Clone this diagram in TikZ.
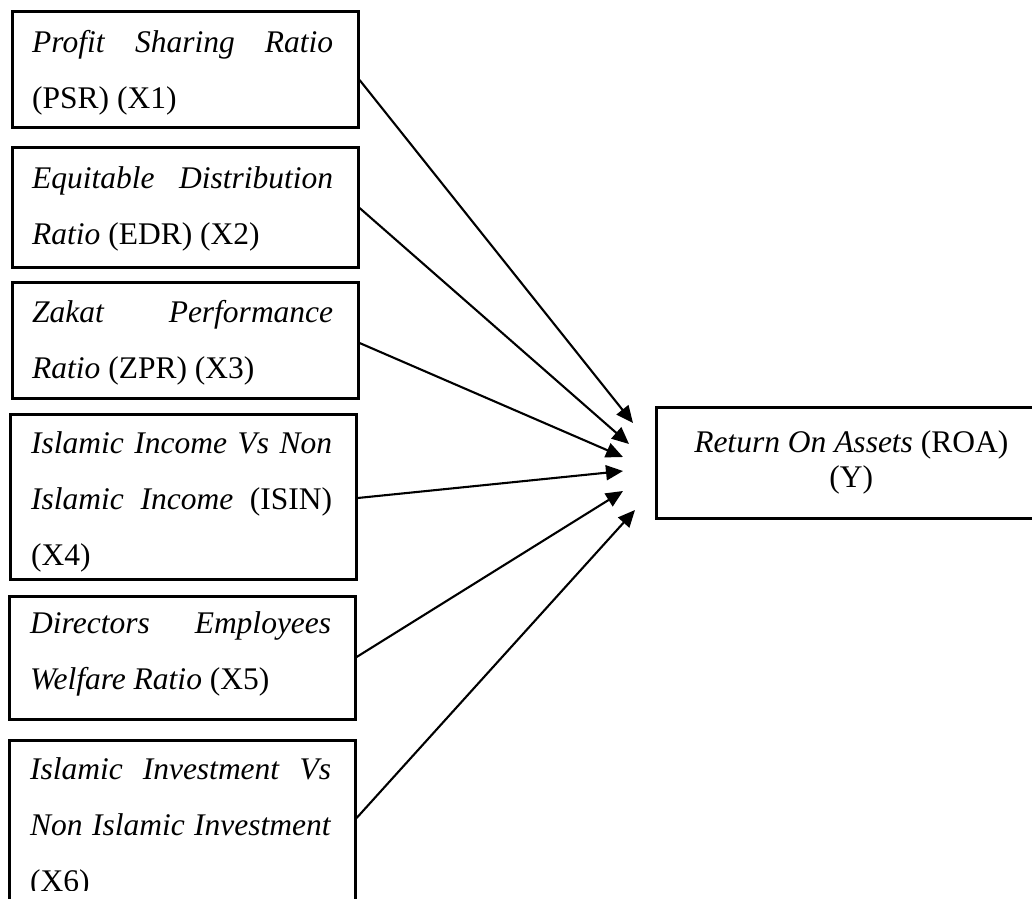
\documentclass[tikz,border=0pt]{standalone}
\usepackage{fontspec}
\setmainfont{Liberation Serif}
\usetikzlibrary{arrows.meta,calc}
\newcommand{\justline}[1]{\hbox to 301pt{\strut #1}}
\newcommand{\plainline}[1]{\hbox{\strut #1}}
\tikzset{
  box/.style={draw=black, line width=2.6pt, inner sep=0pt, anchor=north west, minimum width=346pt},
  lbl/.style={inner sep=0pt, anchor=base west, font=\fontsize{31.5}{56}\selectfont},
  conn/.style={line width=2.1pt, -{Triangle[length=17pt,width=15pt]}},
}
\begin{document}
\begin{tikzpicture}[x=1pt,y=-1pt]
\useasboundingbox (0,0) rectangle (1032,898);
\fill[white] (0,0) rectangle (1032,898);
\clip (0,0) rectangle (1032,898);

% left boxes
\node[box, minimum height=116pt] (b1) at (11,10) {};
\node[box, minimum height=120pt] (b2) at (11,146) {};
\node[box, minimum height=116pt] (b3) at (11,281) {};
\node[box, minimum height=165pt] (b4) at (9,413) {};
\node[box, minimum height=123pt] (b5) at (8,595) {};
\node[box, minimum height=175pt] (b6) at (8,739) {};

% texts
\node[lbl] (t1) at (32,52) {\vtop{%
  \justline{\textit{Profit}\hfill\textit{Sharing}\hfill\textit{Ratio}}
  \plainline{(PSR) (X1)}}};
\node[lbl] (t2) at (32,188) {\vtop{%
  \justline{\textit{Equitable}\hfill\textit{Distribution}}
  \plainline{\textit{Ratio} (EDR) (X2)}}};
\node[lbl] (t3) at (32,322) {\vtop{%
  \justline{\textit{Zakat}\hfill\textit{Performance}}
  \plainline{\textit{Ratio} (ZPR) (X3)}}};
\node[lbl] (t4) at (31,453) {\vtop{%
  \justline{\textit{Islamic}\hfill\textit{Income}\hfill\textit{Vs}\hfill\textit{Non}}
  \justline{\textit{Islamic}\hfill\textit{Income}\hfill(ISIN)}
  \plainline{(X4)}}};
\node[lbl] (t5) at (30,633) {\vtop{%
  \justline{\textit{Directors}\hfill\textit{Employees}}
  \plainline{\textit{Welfare Ratio} (X5)}}};
\begin{scope}
\clip (0,0) rectangle (1032,890);
\node[lbl] (t6) at (30,779) {\vtop{%
  \justline{\textit{Islamic}\hfill\textit{Investment}\hfill\textit{Vs}}
  \justline{\textit{Non}\hfill\textit{Islamic}\hfill\textit{Investment}}
  \plainline{(X6)}}};
\end{scope}

% dependent variable box
\node[box, minimum width=390pt, minimum height=111pt, align=center,
      font=\fontsize{31.5}{35}\selectfont] (y) at (655,406)
      {\textit{Return On Assets} (ROA)\\(Y)};

% arrow tips
\coordinate (e1) at (633,423);
\coordinate (e2) at (629,444);
\coordinate (e3) at (623,457);
\coordinate (e4) at (623,471);
\coordinate (e5) at (623,491);
\coordinate (e6) at (635,510);

\draw[conn] ($(b1.north east)+(0,70)$) -- (e1);
\draw[conn] ($(b2.north east)+(0,62)$) -- (e2);
\draw[conn] ($(b3.north east)+(0,62)$) -- (e3);
\draw[conn] ($(b4.north east)+(0,85)$) -- (e4);
\draw[conn] ($(b5.north east)+(0,62)$) -- (e5);
\draw[conn] ($(b6.north east)+(0,79)$) -- (e6);
\end{tikzpicture}
\end{document}
